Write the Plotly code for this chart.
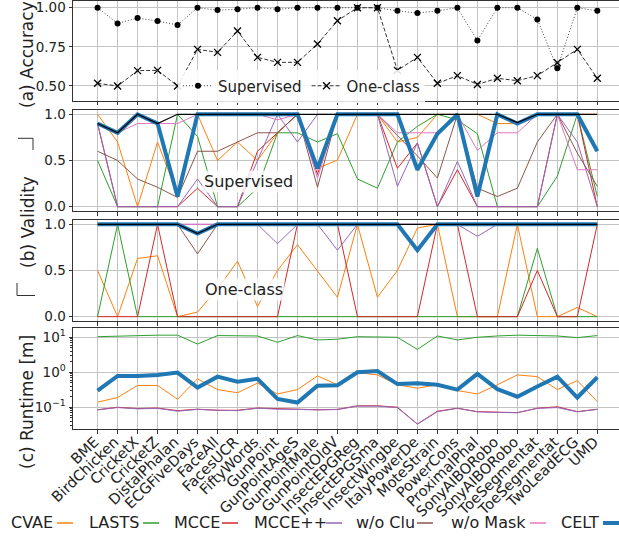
import plotly.graph_objects as go

# ---------------- data ----------------
datasets = ["BME", "BirdChicken", "CricketX", "CricketZ", "DistalPhalan", "ECGFiveDays",
            "FaceAll", "FacesUCR", "FiftyWords", "GunPoint", "GunPointAgeS", "GunPointMale",
            "GunPointOldV", "InsectEPGReg", "InsectEPGSma", "InsectWingbe", "ItalyPowerDe",
            "MoteStrain", "PowerCons", "ProximalPhal", "SonyAIBORobo", "SonyAIBORobo",
            "ToeSegmentat", "ToeSegmentat", "TwoLeadECG", "UMD"]

acc_supervised = [1.0, 0.90, 0.934, 0.915, 0.89, 1.0, 0.985, 0.99, 1.0, 0.99, 1.0, 1.0, 1.0,
                  1.0, 1.0, 0.98, 0.966, 0.98, 1.0, 0.79, 1.0, 1.0, 0.925, 0.613, 1.0, 0.98]
acc_oneclass = [0.517, 0.50, 0.598, 0.60, 0.50, 0.734, 0.715, 0.851, 0.683, 0.651, 0.651, 0.768,
                0.917, 1.0, 1.0, 0.60, 0.683, 0.517, 0.566, 0.51, 0.549, 0.534, 0.566, 0.649,
                0.734, 0.549]

methods = ["CVAE", "LASTS", "MCCE", "MCCE++", "w/o Clu", "w/o Mask", "CELT"]

validity_supervised = {
    "CVAE":     [1.0, 0.70, 0.0, 0.70, 0.13, 1.0, 0.50, 0.70, 0.50, 0.80, 1.0, 0.415, 0.505,
                 1.0, 1.0, 0.70, 0.75, 1.0, 1.0, 1.0, 0.90, 0.90, 1.0, 1.0, 1.0, 1.0],
    "LASTS":    [0.50, 0.0, 0.0, 0.0, 1.0, 0.76, 0.0, 0.0, 0.20, 0.80, 0.80, 0.70, 0.79,
                 0.30, 0.20, 0.70, 0.87, 1.0, 0.94, 0.79, 0.0, 0.0, 0.0, 0.33, 1.0, 0.11],
    "MCCE":     [0.90, 0.0, 0.0, 0.0, 0.0, 0.20, 0.0, 0.0, 0.60, 0.80, 1.0, 0.35, 1.0,
                 1.0, 1.0, 0.415, 0.69, 0.0, 0.40, 0.0, 0.0, 0.0, 0.0, 1.0, 1.0, 0.0],
    "MCCE++":   [0.90, 0.0, 0.0, 0.0, 0.0, 0.30, 0.0, 0.0, 0.50, 1.0, 0.70, 1.0, 1.0,
                 1.0, 1.0, 0.22, 0.69, 0.0, 0.49, 0.0, 0.0, 0.0, 0.0, 1.0, 0.70, 0.0],
    "w/o Clu":  [0.60, 0.50, 0.30, 0.21, 0.10, 0.60, 0.60, 0.70, 0.80, 0.80, 1.0, 0.21, 1.0,
                 1.0, 1.0, 0.77, 0.55, 0.31, 1.0, 0.20, 0.11, 0.20, 0.70, 1.0, 0.58, 0.22],
    "w/o Mask": [0.90, 0.80, 0.90, 0.90, 0.90, 1.0, 1.0, 1.0, 1.0, 0.94, 1.0, 0.31, 1.0,
                 1.0, 1.0, 0.80, 0.80, 0.80, 1.0, 0.61, 0.80, 0.80, 1.0, 1.0, 0.40, 0.40],
    "CELT":     [0.90, 0.80, 1.0, 0.90, 0.11, 1.0, 1.0, 1.0, 1.0, 1.0, 1.0, 0.415, 1.0,
                 1.0, 1.0, 1.0, 0.40, 0.79, 1.0, 0.11, 1.0, 0.90, 1.0, 1.0, 1.0, 0.60],
}
reference_supervised = [0.90, 0.80, 1.0, 0.90, 1.0, 1.0, 1.0, 1.0, 1.0, 1.0, 1.0, 1.0, 1.0,
                        1.0, 1.0, 1.0, 1.0, 1.0, 1.0, 1.0, 1.0, 0.91, 1.0, 1.0, 1.0, 1.0]

validity_oneclass = {
    "CVAE":     [0.50, 0.0, 0.63, 0.66, 0.0, 0.05, 0.30, 0.60, 0.11, 0.50, 0.78, 0.49, 0.21,
                 1.0, 0.21, 0.50, 0.96, 1.0, 0.0, 0.0, 0.0, 1.0, 0.0, 0.0, 0.10, 0.0],
    "LASTS":    [0.0, 1.0, 0.0, 0.0, 0.0, 0.0, 0.0, 0.0, 0.0, 0.0, 0.0, 0.0, 0.0,
                 0.0, 0.0, 0.0, 0.0, 0.0, 0.0, 0.0, 0.0, 0.0, 0.74, 0.0, 0.0, 0.0],
    "MCCE":     [0.0, 0.0, 0.0, 1.0, 0.0, 0.0, 0.0, 0.0, 0.0, 0.0, 1.0, 1.0, 1.0,
                 0.0, 0.0, 0.0, 0.0, 1.0, 1.0, 0.0, 0.0, 0.0, 0.50, 0.0, 0.0, 1.0],
    "MCCE++":   [1.0, 1.0, 1.0, 1.0, 1.0, 1.0, 1.0, 1.0, 1.0, 0.79, 1.0, 1.0, 0.72,
                 1.0, 1.0, 1.0, 1.0, 1.0, 1.0, 0.87, 1.0, 1.0, 1.0, 1.0, 1.0, 1.0],
    "w/o Clu":  [1.0, 1.0, 1.0, 1.0, 1.0, 0.68, 1.0, 1.0, 1.0, 1.0, 1.0, 1.0, 1.0,
                 1.0, 1.0, 1.0, 0.70, 1.0, 1.0, 1.0, 1.0, 1.0, 1.0, 1.0, 1.0, 1.0],
    "w/o Mask": [1.0] * 26,
    "CELT":     [1.0, 1.0, 1.0, 1.0, 1.0, 0.90, 1.0, 1.0, 1.0, 1.0, 1.0, 1.0, 1.0,
                 1.0, 1.0, 1.0, 0.72, 1.0, 1.0, 1.0, 1.0, 1.0, 1.0, 1.0, 1.0, 1.0],
}
reference_oneclass = [1.0, 1.0, 1.0, 1.0, 1.0, 0.90, 1.0, 1.0, 1.0, 1.0, 1.0, 1.0, 1.0,
                      1.0, 1.0, 1.0, 1.0, 1.0, 1.0, 1.0, 1.0, 1.0, 1.0, 1.0, 1.0, 1.0]

runtime = {
    "CVAE":   [0.14, 0.19, 0.42, 0.42, 0.17, 0.65, 0.32, 0.26, 0.49, 0.24, 0.32, 0.79, 0.44,
               0.98, 0.84, 0.44, 0.35, 0.44, 0.30, 0.24, 0.44, 0.84, 0.75, 0.32, 0.58, 0.145],
    "LASTS":  [10.4, 10.9, 11.2, 11.5, 11.5, 6.4, 11.2, 11.2, 10.9, 7.2, 11.2, 8.4, 8.8,
               10.4, 10.0, 10.0, 4.5, 10.9, 8.4, 10.0, 10.9, 11.5, 11.2, 10.9, 9.8, 11.2],
    "MCCE":   [0.085, 0.10, 0.092, 0.095, 0.080, 0.088, 0.082, 0.082, 0.095, 0.090, 0.088,
               0.085, 0.087, 0.110, 0.110, 0.100, 0.033, 0.077, 0.094, 0.075, 0.072, 0.070,
               0.094, 0.103, 0.075, 0.088],
    "MCCE++": [0.084, 0.098, 0.090, 0.093, 0.077, 0.087, 0.082, 0.080, 0.094, 0.088, 0.087,
               0.084, 0.086, 0.108, 0.108, 0.098, 0.033, 0.075, 0.093, 0.074, 0.071, 0.070,
               0.093, 0.098, 0.074, 0.087],
    "CELT":   [0.30, 0.785, 0.785, 0.84, 0.98, 0.365, 0.75, 0.54, 0.65, 0.173, 0.136, 0.41,
               0.425, 1.0, 1.09, 0.46, 0.485, 0.44, 0.32, 0.90, 0.33, 0.20, 0.39, 0.75, 0.19, 0.72],
}

colors = {"CVAE": "#ff7f0e", "LASTS": "#2ca02c", "MCCE": "#d62728", "MCCE++": "#9467bd",
          "w/o Clu": "#8c564b", "w/o Mask": "#e377c2", "CELT": "#1f77b4"}

# ---------------- layout helpers ----------------
W, H = 619, 541
L = 73
PW = W - L
FONT = "DejaVu Sans"


def fx(p):
    return (p - L) / PW


def fy(p):
    return 1 - p / H


x = list(range(len(datasets)))
fig = go.Figure()

# (a) accuracy
fig.add_trace(go.Scatter(x=x, y=acc_supervised, name="Supervised", mode="lines+markers",
                         line=dict(color="#444", width=1, dash="1px,2px"),
                         marker=dict(symbol="circle", size=6, color="black"),
                         xaxis="x", yaxis="y"))
fig.add_trace(go.Scatter(x=x, y=acc_oneclass, name="One-class", mode="lines+markers",
                         line=dict(color="#333", width=1, dash="4px,2px"),
                         marker=dict(symbol="x-thin", size=7, line=dict(width=1.3, color="black")),
                         xaxis="x", yaxis="y"))

# (b) validity
for data, ref, ax in [(validity_supervised, reference_supervised, "2"),
                      (validity_oneclass, reference_oneclass, "3")]:
    for m in methods:
        fig.add_trace(go.Scatter(x=x, y=data[m], name=m, mode="lines", showlegend=False,
                                 line=dict(color=colors[m], width=4 if m == "CELT" else 1),
                                 xaxis="x" + ax, yaxis="y" + ax))
    fig.add_trace(go.Scatter(x=x, y=ref, mode="lines", showlegend=False,
                             line=dict(color="black", width=1.2),
                             xaxis="x" + ax, yaxis="y" + ax))

# (c) runtime
for m in methods:
    if m in runtime:
        fig.add_trace(go.Scatter(x=x, y=runtime[m], name=m, mode="lines", showlegend=False,
                                 line=dict(color=colors[m], width=4 if m == "CELT" else 1),
                                 xaxis="x4", yaxis="y4"))

GRID = "#c4c4c4"
AX = "#333"
xcommon = dict(range=[-1.23, 26.085], tickmode="array", tickvals=x, showgrid=True,
               gridcolor=GRID, gridwidth=1.3, ticks="outside", ticklen=3.5, tickcolor=AX,
               showline=True, mirror=True, linecolor=AX, linewidth=1, zeroline=False)
ycommon = dict(showgrid=True, gridcolor=GRID, gridwidth=1.3, ticks="outside", ticklen=3.5,
               tickcolor=AX, showline=True, linecolor=AX, linewidth=1, zeroline=False,
               tickfont=dict(size=13.5, color="#222"), ticklabeloverflow="allow")

doms = {"1": (1, 100.7), "2": (109.7, 211.3), "3": (219.7, 321.3), "4": (328.3, 429.3)}

layout = dict(
    width=W, height=H, margin=dict(l=L, r=0, t=0, b=0, autoexpand=False),
    paper_bgcolor="white", plot_bgcolor="white",
    font=dict(family=FONT, color="#222"),
    showlegend=True, hovermode=False,
    legend=dict(orientation="h", x=fx(178), y=fy(86), xanchor="left", yanchor="middle",
                font=dict(size=15, color="#222"), bgcolor="rgba(255,255,255,0.85)",
                borderwidth=0, itemwidth=30, tracegroupgap=0),
)
for k in ["1", "2", "3", "4"]:
    top, bot = doms[k]
    xa = dict(xcommon, anchor="y" if k == "1" else "y" + k, domain=[0, 1])
    if k != "1":
        xa["matches"] = "x"
    if k == "4":
        xa.update(ticktext=datasets, showticklabels=True, tickangle=-44,
                  tickfont=dict(size=14.5, color="#222"), automargin=False,
                  ticklabelshift=-3, ticklabelstandoff=-6, ticklabeloverflow="allow")
    else:
        xa["showticklabels"] = False
    ya = dict(ycommon, domain=[fy(bot), fy(top)], anchor="x" if k == "1" else "x" + k)
    if k == "1":
        ya.update(range=[0.406, 1.043], tickvals=[0.5, 0.75, 1.0], tickformat=".2f")
    elif k in ("2", "3"):
        ya.update(range=[-0.05, 1.05], tickvals=[0, 0.5, 1.0], tickformat=".1f")
    else:
        ya.update(type="log", range=[-1.63, 1.257], tickvals=[0.1, 1, 10],
                  ticktext=["10<sup>−1</sup>", "10<sup>0</sup>", "10<sup>1</sup>"],
                  minor=dict(ticks="outside", ticklen=2, tickcolor=AX, showgrid=False,
                             tickvals=[a * b for b in (0.01, 0.1, 1, 10) for a in range(2, 10)]))
    layout["xaxis" if k == "1" else "xaxis" + k] = xa
    layout["yaxis" if k == "1" else "yaxis" + k] = ya

fig.update_layout(**layout)

ann = []
# y-axis titles
for text, px, py in [("(a) Accuracy", 27, 55), ("(b) Validity", 28, 222), ("(c) Runtime [m]", 27, 402)]:
    ann.append(dict(text=text, x=fx(px), y=fy(py), xref="paper", yref="paper", showarrow=False,
                    textangle=-90, font=dict(size=17, color="#222"), xanchor="center", yanchor="middle"))
# panel labels
for text, px, py in [("Supervised", 248, 181), ("One-class", 244, 289)]:
    ann.append(dict(text=text, x=fx(px), y=fy(py), xref="paper", yref="paper", showarrow=False,
                    font=dict(size=16, color="#222"), bgcolor="rgba(255,255,255,0.8)",
                    xanchor="center", yanchor="middle", borderpad=1))

# bottom legend: text followed by line sample
legend_pos = {"CVAE": (10, 57), "LASTS": (88, 143), "MCCE": (173, 222), "MCCE++": (253, 326),
              "w/o Clu": (355, 417), "w/o Mask": (450, 530), "CELT": (560, 603)}
shapes = []
LY = 522
for m in methods:
    tx, lx = legend_pos[m]
    ann.append(dict(text=m, x=fx(tx), y=fy(LY), xref="paper", yref="paper", showarrow=False,
                    font=dict(size=16, color="#222"), xanchor="left", yanchor="middle",
                    borderpad=0))
    shapes.append(dict(type="line", xref="paper", yref="paper", x0=fx(lx), x1=fx(lx + 16),
                       y0=fy(LY + 1), y1=fy(LY + 1),
                       line=dict(color=colors[m], width=4 if m == "CELT" else 1.5)))

# bracket marks around the validity label
for (x0, y0, x1, y1) in [(18, 138.3, 33, 138.3), (33, 138.3, 33, 150),
                         (17, 283, 17, 295.5), (17, 295.5, 35, 295.5)]:
    shapes.append(dict(type="line", xref="paper", yref="paper", x0=fx(x0), x1=fx(x1),
                       y0=fy(y0), y1=fy(y1), line=dict(color="#333", width=1)))

fig.update_layout(annotations=ann, shapes=shapes)
fig.write_html("out.html", config={"displayModeBar": False},
               post_script="document.body.style.margin='0';document.body.style.overflow='hidden';")
